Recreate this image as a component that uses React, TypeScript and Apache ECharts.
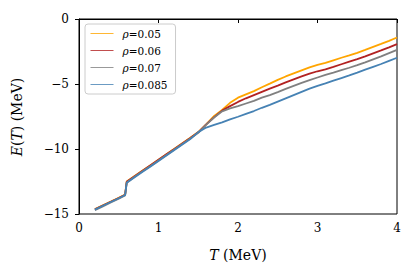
import React, { useEffect, useRef } from "react";
import * as echarts from "echarts";

const T = [0.2, 0.3, 0.4, 0.5, 0.58, 0.6, 0.7, 0.8, 0.9, 1.0, 1.1, 1.2, 1.3, 1.4, 1.5,
  1.6, 1.7, 1.8, 1.9, 2.0, 2.1, 2.2, 2.3, 2.4, 2.5, 2.6, 2.7, 2.8, 2.9, 3.0,
  3.1, 3.2, 3.3, 3.4, 3.5, 3.6, 3.7, 3.8, 3.9, 4.0];

const E_005 = [-14.62, -14.33, -14.05, -13.75, -13.5, -12.5, -12.08, -11.66, -11.24, -10.82, -10.4, -9.98, -9.56, -9.14, -8.7,
  -8.1, -7.45, -7.0, -6.45, -6.05, -5.8, -5.55, -5.25, -4.97, -4.68, -4.42, -4.18, -3.95, -3.72, -3.53,
  -3.38, -3.18, -2.98, -2.8, -2.6, -2.38, -2.15, -1.92, -1.68, -1.42];
const E_006 = [-14.64, -14.35, -14.06, -13.77, -13.52, -12.52, -12.09, -11.67, -11.25, -10.83, -10.41, -9.99, -9.57, -9.15, -8.72,
  -8.1, -7.55, -7.05, -6.7, -6.38, -6.1, -5.85, -5.6, -5.35, -5.12, -4.88, -4.65, -4.42, -4.2, -4.02,
  -3.87, -3.68, -3.48, -3.28, -3.08, -2.87, -2.64, -2.42, -2.18, -1.93];
const E_007 = [-14.7, -14.41, -14.12, -13.83, -13.58, -12.6, -12.14, -11.72, -11.3, -10.88, -10.46, -10.04, -9.62, -9.2, -8.76,
  -8.12, -7.58, -7.1, -6.88, -6.7, -6.5, -6.3, -6.05, -5.85, -5.62, -5.38, -5.15, -4.92, -4.7, -4.5,
  -4.3, -4.12, -3.93, -3.75, -3.55, -3.33, -3.1, -2.87, -2.62, -2.37];
const E_0085 = [-14.66, -14.37, -14.08, -13.79, -13.54, -12.6, -12.18, -11.76, -11.34, -10.92, -10.5, -10.08, -9.66, -9.24, -8.7,
  -8.35, -8.15, -7.95, -7.72, -7.52, -7.3, -7.08, -6.83, -6.6, -6.35, -6.1, -5.85, -5.6, -5.36, -5.14,
  -4.95, -4.74, -4.54, -4.34, -4.13, -3.9, -3.68, -3.46, -3.22, -2.98];

const RHO = ["0.05", "0.06", "0.07", "0.085"];
const SERIES = [E_005, E_006, E_007, E_0085];
const COLORS = ["#FFA500", "#B22222", "#808080", "#4682B4"];

const X_TICKS = { min: 0, max: 4, interval: 1 };
const Y_TICKS = { min: -15, max: 0, interval: 5 };

const FONT = "DejaVu Serif";

export default function App() {
  const ref = useRef<HTMLDivElement>(null);
  useEffect(() => {
    if (!ref.current) return;
    const chart = echarts.init(ref.current, undefined, { renderer: "svg" });
    const fmt = (v: number) => (v < 0 ? "\u2212" + Math.abs(v) : String(v));
    const italic = { fontFamily: FONT, fontStyle: "italic", fontSize: 14, fill: "#000", color: "#000" };
    chart.setOption({
      animation: false,
      backgroundColor: "#fff",
      grid: {
        left: 79, top: 19, width: 318, height: 195,
        show: true, borderColor: "#000", borderWidth: 1, backgroundColor: "transparent",
      },
      legend: {
        orient: "vertical",
        left: 85,
        top: 24,
        padding: [4, 8, 4, 5],
        itemWidth: 23,
        itemHeight: 10,
        itemGap: 6,
        backgroundColor: "rgba(255,255,255,0.85)",
        borderColor: "#cccccc",
        borderWidth: 1,
        borderRadius: 3,
        itemStyle: { opacity: 0 },
        lineStyle: { width: 1, opacity: 0.8 },
        textStyle: {
          fontFamily: FONT, fontSize: 10.5, color: "#000", padding: [0, 0, 0, 4],
          rich: { i: { fontFamily: FONT, fontStyle: "italic", fontSize: 10.5 } },
        },
        formatter: (name: string) => "{i|\u03c1}=" + name.replace("rho", ""),
        data: RHO.map((r) => "rho" + r),
      },
      graphic: [
        {
          type: "text",
          x: 17,
          y: 117,
          rotation: Math.PI / 2,
          style: {
            text: "{i|E}{n|(}{i|T}{n|) (MeV)}",
            align: "center",
            verticalAlign: "middle",
            rich: {
              i: italic,
              n: { fontFamily: FONT, fontSize: 14, fill: "#000", color: "#000" },
            },
          },
        },
      ],
      xAxis: {
        type: "value",
        ...X_TICKS,
        name: "{i|T} (MeV)",
        nameLocation: "middle",
        nameGap: 34,
        nameTextStyle: {
          fontFamily: FONT, fontSize: 14, color: "#000",
          rich: { i: { fontFamily: FONT, fontStyle: "italic", fontSize: 14 } },
        },
        axisLine: { lineStyle: { color: "#000", width: 1 } },
        axisTick: { length: 4, lineStyle: { color: "#000" } },
        axisLabel: { fontFamily: FONT, fontSize: 12, color: "#000", margin: 8, formatter: fmt },
        splitLine: { show: false },
      },
      yAxis: {
        type: "value",
        ...Y_TICKS,
        axisLine: { lineStyle: { color: "#000", width: 1 } },
        axisTick: { length: 4, lineStyle: { color: "#000" } },
        axisLabel: { fontFamily: FONT, fontSize: 12, color: "#000", margin: 10, formatter: fmt },
        splitLine: { show: false },
      },
      series: SERIES.map((s, k) => ({
        name: "rho" + RHO[k],
        type: "line",
        data: T.map((t, i) => [t, s[i]]),
        showSymbol: false,
        symbol: "none",
        color: COLORS[k],
        lineStyle: { width: 1.8, color: COLORS[k] },
      })),
    });
    return () => chart.dispose();
  }, []);
  return (
    <div ref={ref} style={{ position: "fixed", left: 0, top: 0, width: 416, height: 279 }} />
  );
}
